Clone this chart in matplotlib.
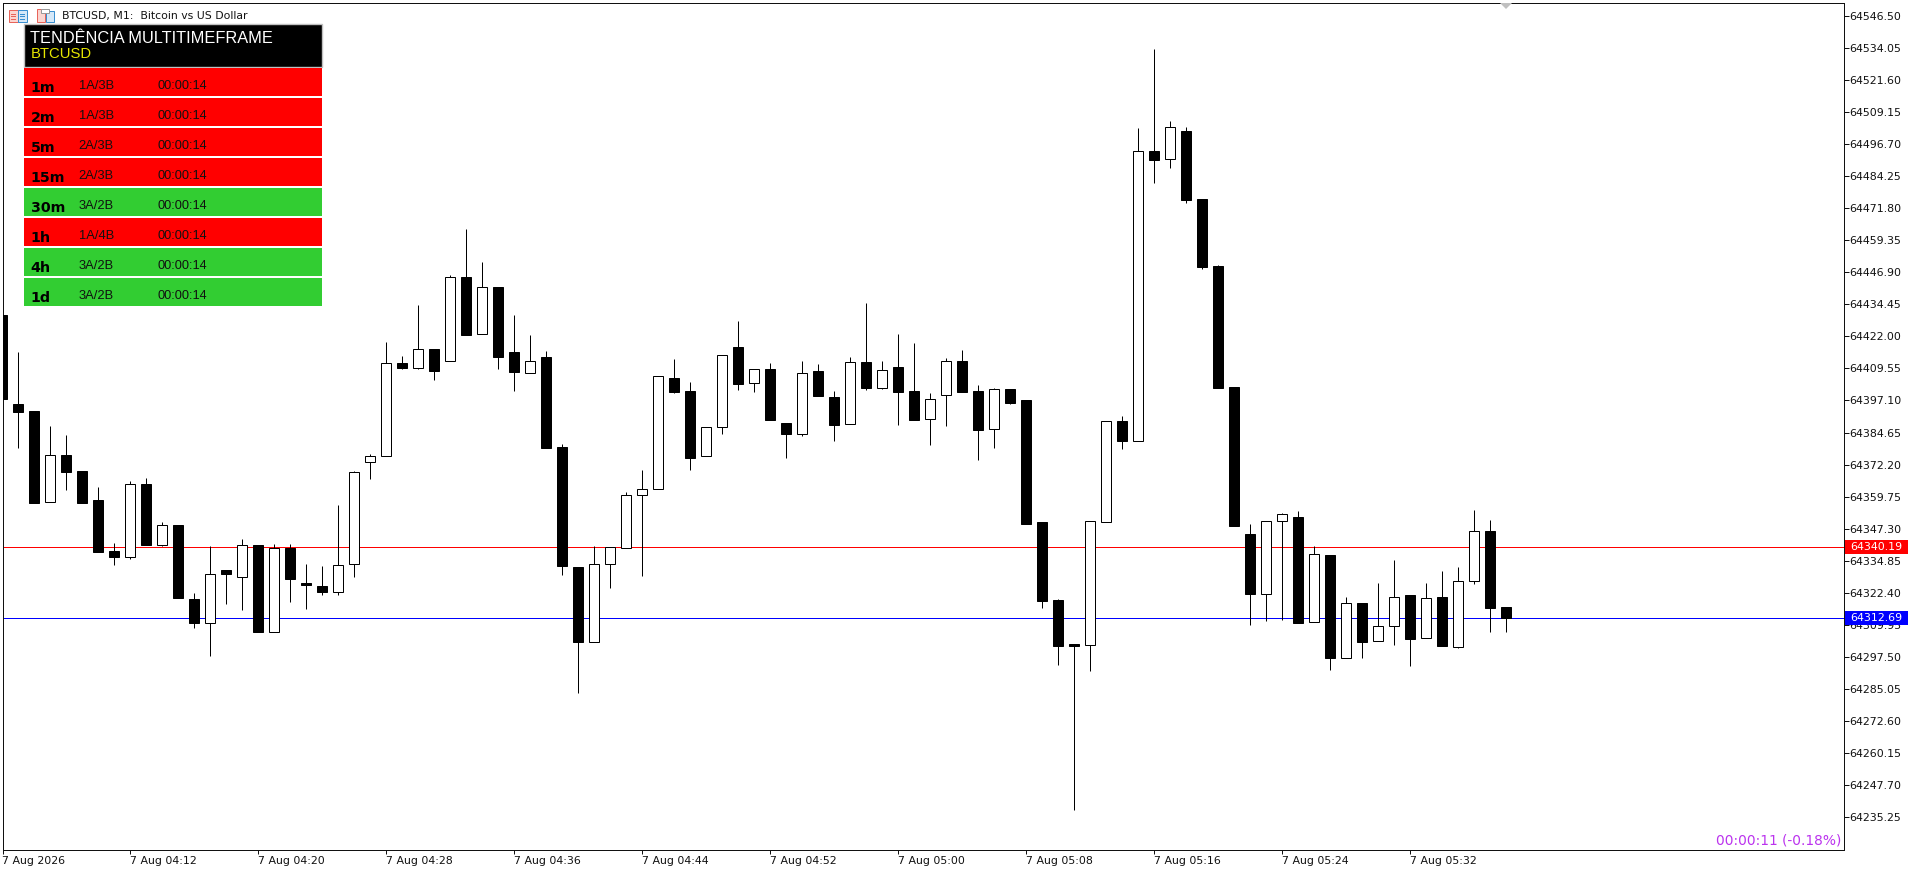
import matplotlib
matplotlib.use('Agg')
import matplotlib.pyplot as plt
from matplotlib.patches import Rectangle, Polygon

W, H = 1920, 873

opens = [
    64430.3, 64395.7, 64393.0, 64357.8, 64375.9, 64369.7, 64358.5, 64338.7, 64336.5, 64364.7,
    64341.1, 64348.8, 64320.0, 64310.6, 64331.2, 64328.4, 64341.0, 64307.3, 64339.8, 64326.1,
    64325.1, 64322.9, 64333.5, 64373.1, 64375.4, 64411.7, 64409.8, 64417.1, 64412.3, 64445.0,
    64422.8, 64441.2, 64415.9, 64407.7, 64414.0, 64379.0, 64332.5, 64303.4, 64333.5, 64340.0,
    64360.3, 64362.6, 64405.7, 64400.8, 64375.4, 64386.7, 64417.9, 64403.8, 64409.3, 64388.4,
    64384.2, 64408.6, 64398.5, 64387.9, 64412.0, 64402.1, 64410.1, 64400.8, 64389.8, 64399.1,
    64412.4, 64400.8, 64385.9, 64401.6, 64397.3, 64349.9, 64319.6, 64302.6, 64302.3, 64350.0,
    64389.1, 64381.5, 64494.0, 64490.7, 64501.7, 64475.3, 64449.3, 64402.3, 64345.1, 64321.9,
    64350.2, 64351.7, 64311.0, 64337.0, 64297.0, 64318.4, 64303.6, 64309.4, 64321.5, 64304.8,
    64320.7, 64301.5, 64326.9, 64346.3, 64316.8]
highs = [
    64430.3, 64415.9, 64393.0, 64387.2, 64383.7, 64369.7, 64363.5, 64341.8, 64365.7, 64367.0,
    64349.9, 64348.8, 64322.2, 64340.5, 64331.2, 64343.3, 64341.0, 64341.3, 64341.3, 64333.6,
    64332.8, 64356.5, 64369.6, 64376.3, 64419.8, 64414.4, 64434.2, 64417.1, 64445.7, 64463.7,
    64450.9, 64441.2, 64430.3, 64422.5, 64416.3, 64380.1, 64332.5, 64340.5, 64340.1, 64361.6,
    64370.1, 64406.5, 64413.2, 64404.3, 64386.7, 64414.6, 64428.0, 64409.2, 64411.7, 64388.4,
    64412.4, 64411.3, 64400.8, 64414.0, 64435.0, 64412.4, 64422.9, 64419.4, 64400.0, 64413.6,
    64416.7, 64403.1, 64402.0, 64401.6, 64397.3, 64349.9, 64320.0, 64302.6, 64350.2, 64389.0,
    64391.1, 64502.9, 64533.6, 64505.6, 64503.3, 64475.3, 64449.7, 64402.3, 64349.1, 64350.2,
    64353.4, 64354.1, 64340.6, 64337.0, 64320.8, 64318.4, 64326.2, 64335.2, 64321.5, 64326.2,
    64330.9, 64332.5, 64354.6, 64350.7, 64316.8]
lows = [
    64397.8, 64378.8, 64357.4, 64357.8, 64362.3, 64357.4, 64338.4, 64333.2, 64335.7, 64341.1,
    64340.6, 64320.5, 64308.9, 64298.0, 64318.2, 64315.9, 64307.3, 64307.3, 64319.0, 64316.3,
    64321.7, 64321.7, 64328.7, 64366.7, 64375.4, 64409.4, 64409.4, 64405.2, 64412.3, 64422.6,
    64422.8, 64409.4, 64400.9, 64407.7, 64378.8, 64329.5, 64283.6, 64303.4, 64324.4, 64340.0,
    64329.1, 64362.6, 64400.1, 64370.2, 64375.4, 64384.2, 64401.3, 64400.5, 64389.6, 64374.9,
    64383.4, 64399.0, 64381.5, 64387.9, 64401.3, 64401.7, 64387.7, 64389.6, 64379.9, 64387.3,
    64400.5, 64374.1, 64378.8, 64395.9, 64349.3, 64316.6, 64294.5, 64238.2, 64292.2, 64350.0,
    64378.4, 64381.5, 64481.7, 64487.5, 64473.9, 64448.3, 64402.1, 64348.5, 64310.0, 64311.6,
    64312.0, 64310.8, 64311.0, 64292.6, 64297.0, 64297.2, 64303.6, 64302.3, 64294.1, 64304.8,
    64301.9, 64301.1, 64326.0, 64307.3, 64307.3]
closes = [
    64397.8, 64392.7, 64357.4, 64375.8, 64369.4, 64357.4, 64338.4, 64336.5, 64364.6, 64341.1,
    64348.6, 64320.5, 64310.8, 64329.6, 64329.9, 64340.9, 64307.3, 64339.7, 64327.9, 64325.5,
    64322.9, 64333.1, 64369.2, 64375.4, 64411.5, 64409.8, 64417.0, 64408.7, 64444.9, 64422.6,
    64441.0, 64414.1, 64408.3, 64412.3, 64378.8, 64333.0, 64303.4, 64333.5, 64340.1, 64360.3,
    64362.6, 64406.5, 64400.5, 64374.9, 64386.7, 64414.6, 64403.6, 64409.2, 64389.6, 64384.2,
    64407.7, 64399.0, 64387.7, 64411.9, 64402.1, 64408.8, 64400.5, 64389.6, 64397.6, 64412.3,
    64400.5, 64385.8, 64401.4, 64396.2, 64349.3, 64319.4, 64301.9, 64301.8, 64350.2, 64389.0,
    64381.5, 64493.9, 64490.6, 64503.2, 64474.9, 64449.0, 64402.1, 64348.5, 64322.1, 64350.2,
    64352.9, 64310.8, 64337.4, 64297.2, 64318.4, 64303.4, 64309.4, 64320.7, 64304.6, 64320.3,
    64301.9, 64326.9, 64346.3, 64316.6, 64312.7]

price_ticks = [64546.50 - 12.45 * k for k in range(26)]
time_tick_bars = list(range(0, 89, 8))
time_tick_labels = ['7 Aug 2026', '7 Aug 04:12', '7 Aug 04:20', '7 Aug 04:28', '7 Aug 04:36', '7 Aug 04:44',
                    '7 Aug 04:52', '7 Aug 05:00', '7 Aug 05:08', '7 Aug 05:16', '7 Aug 05:24', '7 Aug 05:32']

ask_price = 64340.19
bid_price = 64312.69

tf_labels = ['1m', '2m', '5m', '15m', '30m', '1h', '4h', '1d']
tf_counts = ['1A/3B', '1A/3B', '2A/3B', '2A/3B', '3A/2B', '1A/4B', '3A/2B', '3A/2B']
tf_timers = ['00:00:14'] * 8
tf_colors = ['#ff0000', '#ff0000', '#ff0000', '#ff0000', '#32cd32', '#ff0000', '#32cd32', '#32cd32']

fig = plt.figure(figsize=(W / 100, H / 100), dpi=100, facecolor='white')
ax = fig.add_axes([2.5 / W, 1 - 849.5 / H, 1841 / W, 847 / H])
px = 0.72  # one pixel in points

# candles
for i in range(len(opens)):
    up = closes[i] > opens[i]
    ax.vlines(i, lows[i], highs[i], color='black', lw=px, zorder=2)
    ax.bar(i, abs(closes[i] - opens[i]), bottom=min(opens[i], closes[i]), width=0.625,
           facecolor='white' if up else 'black', edgecolor='black', linewidth=px, zorder=3)

ax.axhline(ask_price, color='#ff0000', lw=px, zorder=1)
ax.axhline(bid_price, color='#0000ff', lw=px, zorder=1)

ax.set_xlim(0.01, 115.07)
ax.set_ylim(64222.76, 64551.63)
ax.yaxis.tick_right()
ax.set_yticks(price_ticks)
ax.set_yticklabels(['%.2f' % p for p in price_ticks])
ax.set_xticks(time_tick_bars)
ax.set_xticklabels(time_tick_labels, ha='left')
ax.tick_params(axis='y', length=3.6, width=px, pad=0.6, labelsize=7.9, colors='#111111')
ax.tick_params(axis='x', length=3.2, width=px, pad=1.5, labelsize=7.9, colors='#111111')
for s in ax.spines.values():
    s.set_linewidth(px)
    s.set_color('#111111')

# overlay in screen pixels for the terminal panel and price labels
ov = fig.add_axes([0, 0, 1, 1], zorder=10)
ov.patch.set_alpha(0)
ov.set_xlim(0, W)
ov.set_ylim(H, 0)
ov.axis('off')
fig.canvas.draw()


def box(x0, y0, x1, y1, fc, ec='none', lw=0):
    ov.add_patch(Rectangle((x0, y0), x1 - x0, y1 - y0, facecolor=fc, edgecolor=ec, linewidth=lw))


for price, col in [(ask_price, '#ff0000'), (bid_price, '#0000ff')]:
    yp = H - ax.transData.transform((0, price))[1]
    box(1845, yp - 7, 1908, yp + 7, col)
    ov.text(1850, yp, '%.2f' % price, color='white', fontsize=7.9, va='center', ha='left')

ov.add_patch(Polygon([(1500, 3), (1512, 3), (1506, 9)], facecolor='#c0c0c0', edgecolor='none'))
ov.text(1841.5, 840.7, '00:00:11 (-0.18%)', color='#bb33ee', fontsize=9.9, ha='right', va='center')

# window title and its two icons
box(9, 10, 17.5, 22, '#fbd5d0', '#e8645a', px)
box(18, 10, 26.5, 22, '#d5e8f8', '#3a8fd0', px)
for yy in (13.5, 16, 18.5):
    box(10.5, yy, 16, yy + 1, '#e8645a')
    box(19.5, yy, 25, yy + 1, '#3a8fd0')
box(36.5, 9, 44.5, 22, '#fbd5d0', '#e8645a', px)
box(46, 11, 53.5, 22, '#d5e8f8', '#3a8fd0', px)
box(41, 9, 49, 13, 'white', '#999999', px)
ov.text(62, 16.5, 'BTCUSD, M1:  Bitcoin vs US Dollar', color='#111111', fontsize=7.85, ha='left', va='center')

# trend panel
box(24, 24, 322, 67, 'black', '#c0c0c0', 1.0)
ov.text(30.5, 38.5, 'TEND\u00caNCIA MULTITIMEFRAME', color='white', family='Liberation Sans',
        fontsize=11.75, ha='left', va='center')
ov.text(31, 54, 'BTCUSD', color='#e6e600', family='Liberation Sans', fontsize=10.7, ha='left', va='center')

for k in range(len(tf_labels)):
    top = 68 + 30 * k
    box(24, top, 322, top + 28, tf_colors[k])
    ov.text(30.5, top + 24, tf_labels[k], color='black', family='DejaVu Sans', fontweight='bold',
            fontsize=10.3, ha='left', va='baseline')
    ov.text(78.5, top + 21, tf_counts[k], color='#111111', family='Liberation Sans', fontsize=9.3,
            ha='left', va='baseline')
    ov.text(158, top + 21, tf_timers[k], color='#111111', family='Liberation Sans', fontsize=9.2,
            ha='left', va='baseline')

fig.savefig('out.png', dpi=100, facecolor='white')
